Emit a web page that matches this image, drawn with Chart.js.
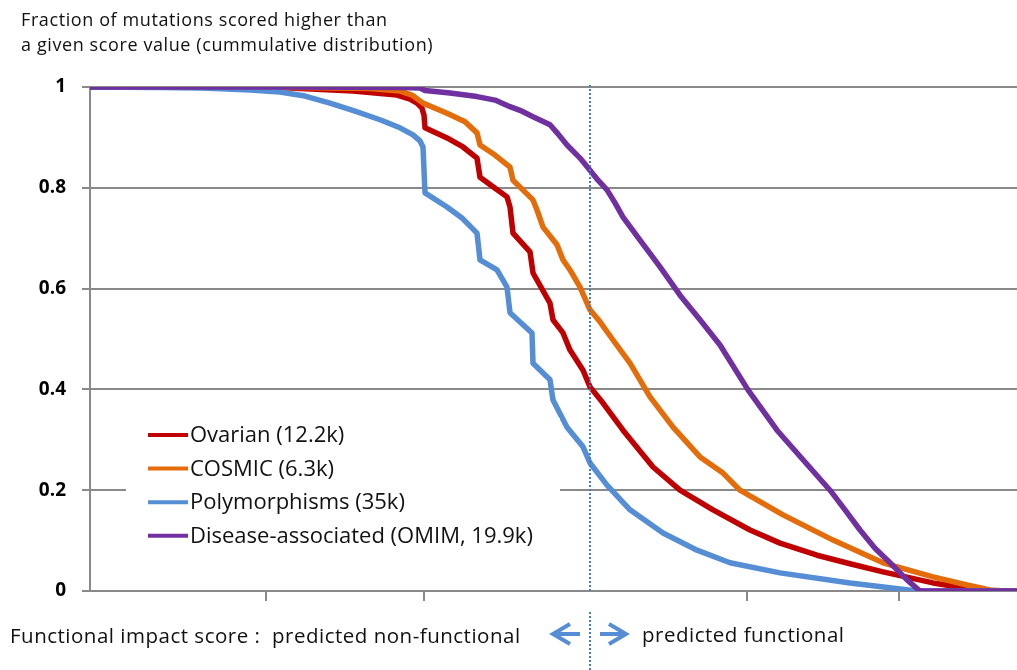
<!DOCTYPE html>
<html>
<head>
<meta charset="utf-8">
<title>Functional impact score</title>
<script src="https://cdn.jsdelivr.net/npm/chart.js@4.4.1/dist/chart.umd.min.js"></script>
<style>
  body { margin: 0; background: #fff; }
  #wrap { position: relative; width: 1017px; height: 670px; font-family: "Open Sans", sans-serif; color: #111; }
  #graph { position: absolute; left: 0; top: 0; }
  .txt { position: absolute; white-space: nowrap; }
  #yTitle { left: 21px; top: 7px; font-size: 18px; line-height: 25px; letter-spacing: 0.6px; }
  #xLeft { left: 10px; top: 622px; font-size: 20.5px; line-height: 26px; letter-spacing: 0.5px; }
  #xRight { left: 642px; top: 621px; font-size: 20.5px; line-height: 26px; letter-spacing: 0.5px; }
</style>
</head>
<body>
<div id="wrap">
  <canvas id="graph" width="1017" height="670"></canvas>
  <div class="txt" id="yTitle">Fraction of mutations scored higher than<br>a given score value (cummulative distribution)</div>
  <div class="txt" id="xLeft">Functional impact score :&nbsp; predicted non-functional</div>
  <div class="txt" id="xRight">predicted functional</div>
</div>
<script>
// Eje x: score de impacto funcional, eje y: fraccion de mutaciones con score mayor
const ovarianScore = [0, 1.60, 2.00, 2.63, 3.07, 3.20, 3.27, 3.32, 3.34, 3.35, 3.57, 3.73, 3.87, 3.90, 4.03, 4.17, 4.20, 4.23, 4.40, 4.43,
  4.60, 4.63, 4.73, 4.80, 4.93, 5.00, 5.13, 5.33, 5.63, 5.90, 6.23, 6.60, 6.90, 7.27, 7.60, 7.93, 8.43, 8.75, 9.03, 9.27];
const ovarianFrac = [1, 0.999, 0.998, 0.992, 0.984, 0.976, 0.968, 0.958, 0.944, 0.919, 0.899, 0.881, 0.859, 0.821, 0.802, 0.782, 0.762, 0.710, 0.673, 0.631,
  0.571, 0.538, 0.512, 0.478, 0.438, 0.405, 0.373, 0.319, 0.246, 0.200, 0.161, 0.121, 0.095, 0.071, 0.054, 0.038, 0.016, 0.006, 0, 0];

const cosmicScore = [0, 2.10, 2.80, 3.10, 3.22, 3.33, 3.57, 3.75, 3.87, 3.90, 4.05, 4.20, 4.23, 4.43, 4.47, 4.53, 4.67, 4.73, 4.80, 4.90,
  5.00, 5.10, 5.23, 5.40, 5.60, 5.83, 6.10, 6.33, 6.50, 6.93, 7.43, 7.93, 8.43, 8.77, 9.00, 9.15, 9.27];
const cosmicFrac = [1, 0.999, 0.997, 0.992, 0.984, 0.968, 0.948, 0.931, 0.909, 0.885, 0.865, 0.841, 0.815, 0.776, 0.756, 0.722, 0.687, 0.657, 0.637, 0.603,
  0.558, 0.534, 0.498, 0.452, 0.385, 0.325, 0.266, 0.234, 0.200, 0.151, 0.101, 0.056, 0.028, 0.012, 0.002, 0, 0];

const polyScore = [0, 0.70, 1.13, 1.60, 1.90, 2.15, 2.40, 2.65, 2.90, 3.10, 3.23, 3.30, 3.33, 3.34, 3.35, 3.57, 3.72, 3.87, 3.90, 4.07,
  4.17, 4.20, 4.42, 4.43, 4.60, 4.63, 4.77, 4.93, 5.00, 5.17, 5.40, 5.73, 6.07, 6.40, 6.90, 7.60, 8.27, 9.27];
const polyFrac = [1, 0.999, 0.998, 0.994, 0.990, 0.982, 0.968, 0.952, 0.935, 0.919, 0.905, 0.893, 0.881, 0.835, 0.790, 0.762, 0.740, 0.710, 0.657, 0.637,
  0.603, 0.552, 0.512, 0.452, 0.419, 0.379, 0.325, 0.286, 0.254, 0.210, 0.161, 0.115, 0.081, 0.056, 0.036, 0.016, 0, 0];

const omimScore = [0, 2.10, 3.10, 3.30, 3.35, 3.60, 3.87, 4.05, 4.20, 4.32, 4.43, 4.60, 4.68, 4.77, 4.90, 5.00, 5.08, 5.17, 5.25, 5.33,
  5.50, 5.70, 5.90, 6.10, 6.30, 6.58, 6.87, 7.15, 7.40, 7.55, 7.70, 7.85, 8.00, 8.17, 8.30, 9.27];
const omimFrac = [1, 1, 0.999, 0.998, 0.993, 0.988, 0.981, 0.974, 0.961, 0.952, 0.941, 0.925, 0.907, 0.885, 0.859, 0.835, 0.815, 0.796, 0.770, 0.742,
  0.696, 0.643, 0.587, 0.538, 0.488, 0.399, 0.319, 0.256, 0.200, 0.161, 0.121, 0.085, 0.056, 0.022, 0, 0];

const seriesLabels = ["Ovarian (12.2k)", "COSMIC (6.3k)", "Polymorphisms (35k)", "Disease-associated (OMIM, 19.9k)"];
const yTicks = [0, 0.2, 0.4, 0.6, 0.8, 1];
const xTicks = [1.76, 3.34, 6.57, 8.09];
const umbral = 5.0;     // limite entre no funcional y funcional
const scoreMax = 9.27;

const colores = ["#c00000", "#e46c0a", "#558ed5", "#7030a0"];
const gris = "#898989";

function toPoints(xs, ys) {
  return xs.map((x, i) => ({ x: x, y: ys[i] }));
}

// leyenda dibujada dentro del area del grafico, con fondo blanco
const leyendaInterna = {
  id: "leyendaInterna",
  afterDatasetsDraw(chart) {
    const ctx = chart.ctx;
    const area = chart.chartArea;
    const x0 = area.left + 36;
    ctx.save();
    ctx.fillStyle = "#fff";
    ctx.fillRect(x0, 418, 434, 158);
    ctx.font = "22px 'Open Sans'";
    ctx.textBaseline = "middle";
    chart.data.datasets.forEach((ds, i) => {
      const y = 435 + i * 33.6;
      ctx.strokeStyle = ds.borderColor;
      ctx.lineWidth = 4;
      ctx.beginPath();
      ctx.moveTo(x0 + 22, y);
      ctx.lineTo(x0 + 62, y);
      ctx.stroke();
      ctx.fillStyle = "#111";
      ctx.fillText(ds.label, x0 + 64, y + 1);
    });
    ctx.restore();
  }
};

// linea punteada del umbral y flechas debajo del eje
const lineaUmbral = {
  id: "lineaUmbral",
  afterDatasetsDraw(chart) {
    const ctx = chart.ctx;
    const x = Math.round(chart.scales.x.getPixelForValue(umbral));
    const area = chart.chartArea;
    ctx.save();
    ctx.strokeStyle = "#3f7fc6";
    ctx.lineWidth = 2;
    ctx.setLineDash([2, 2]);
    ctx.beginPath();
    ctx.moveTo(x, area.top - 2);
    ctx.lineTo(x, area.bottom + 2);
    ctx.moveTo(x, area.bottom + 21);
    ctx.lineTo(x, chart.height);
    ctx.stroke();

    ctx.setLineDash([]);
    ctx.strokeStyle = colores[2];
    ctx.lineWidth = 4;
    const y = area.bottom + 43;
    ctx.beginPath();
    ctx.moveTo(x - 10, y);
    ctx.lineTo(x - 37, y);
    ctx.moveTo(x - 20, y - 10);
    ctx.lineTo(x - 37, y);
    ctx.lineTo(x - 20, y + 10);
    ctx.moveTo(x + 10, y);
    ctx.lineTo(x + 36, y);
    ctx.moveTo(x + 19, y - 10);
    ctx.lineTo(x + 36, y);
    ctx.lineTo(x + 19, y + 10);
    ctx.stroke();
    ctx.restore();
  }
};

const datasets = [
  { label: seriesLabels[0], data: toPoints(ovarianScore, ovarianFrac), borderColor: colores[0], order: 4 },
  { label: seriesLabels[1], data: toPoints(cosmicScore, cosmicFrac), borderColor: colores[1], order: 3 },
  { label: seriesLabels[2], data: toPoints(polyScore, polyFrac), borderColor: colores[2], order: 2 },
  { label: seriesLabels[3], data: toPoints(omimScore, omimFrac), borderColor: colores[3], order: 1 }
].map((ds) => Object.assign(ds, {
  borderWidth: 5.5,
  pointRadius: 0,
  tension: 0,
  fill: false,
  borderJoinStyle: "round"
}));

const graphCanvas = document.getElementById("graph");
window.myChart = new Chart(graphCanvas, {
  type: "line",
  data: { datasets: datasets },
  options: {
    responsive: false,
    animation: false,
    layout: { padding: { top: 87, left: 0, right: 0, bottom: 0 } },
    plugins: {
      legend: { display: false },
      tooltip: { enabled: false }
    },
    scales: {
      x: {
        type: "linear",
        min: 0,
        max: scoreMax,
        afterBuildTicks: (scale) => { scale.ticks = xTicks.map((v) => ({ value: v })); },
        afterFit: (scale) => { scale.height = 79; },
        ticks: { display: false },
        grid: { drawOnChartArea: false, drawTicks: true, tickLength: 10, color: gris, lineWidth: 2 },
        border: { display: true, color: gris, width: 2 }
      },
      y: {
        min: 0,
        max: 1,
        afterBuildTicks: (scale) => { scale.ticks = yTicks.map((v) => ({ value: v })); },
        afterFit: (scale) => { scale.width = 90; },
        ticks: {
          padding: 16,
          color: "#000",
          font: { family: "Open Sans", size: 19, weight: "700" },
          callback: (v) => String(Math.round(v * 10) / 10)
        },
        grid: { color: gris, lineWidth: 2, tickLength: 8 },
        border: { display: true, color: gris, width: 2 }
      }
    }
  },
  plugins: [leyendaInterna, lineaUmbral]
});
</script>
</body>
</html>
